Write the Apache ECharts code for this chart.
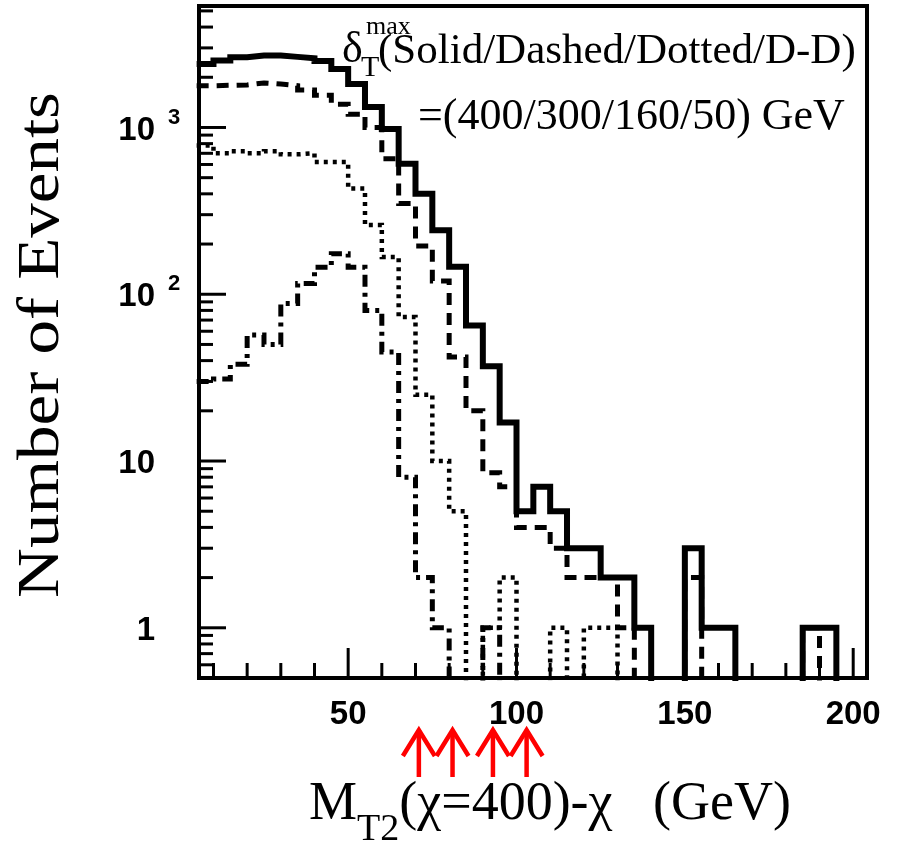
<!DOCTYPE html>
<html>
<head>
<meta charset="utf-8">
<script src="https://cdn.jsdelivr.net/npm/echarts@6/dist/echarts.min.js"></script>
<style>
  html, body { margin: 0; padding: 0; background: #fff; }
  #main { width: 899px; height: 843px; }
</style>
</head>
<body>
<div id="main"></div>
<script>
// left edges of the 5 GeV bins
const binEdges = [5, 10, 15, 20, 25, 30, 35, 40, 45, 50, 55, 60, 65, 70, 75, 80, 85, 90, 95, 100,
  105, 110, 115, 120, 125, 130, 135, 140, 145, 150, 155, 160, 165, 170, 175, 180, 185, 190, 195, 200];

// events per bin
const solid = [2400, 2520, 2640, 2700, 2700, 2650, 2600, 2500, 2245, 1825, 1325, 980, 606, 400, 242, 146, 65, 37, 17, 5,
  7, 5, 3, 3, 2, 2, 1, 0, 0, 3, 1, 1, 0, 0, 0, 0, 1, 1, 0, 0];
const dashed = [1780, 1790, 1800, 1850, 1820, 1780, 1680, 1560, 1380, 1200, 1000, 650, 350, 195, 120, 42, 20, 8.5, 7, 4,
  4, 3, 2, 2, 2, 1, 0, 0, 0, 2, 0, 0, 0, 0, 0, 0, 1, 0, 0, 0];
const dotted = [780, 700, 720, 700, 720, 690, 700, 620, 620, 430, 260, 167, 73, 25, 10, 5, 0, 1, 2, 0,
  0, 1, 0, 1, 1, 0, 0, 0, 0, 0, 0, 0, 0, 0, 0, 0, 0, 0, 0, 0];
const dashDot = [30, 31, 38, 57, 50, 88, 116, 145, 175, 145, 80, 45, 8, 2, 1, 0, 0, 1, 0, 0,
  0, 0, 0, 0, 0, 0, 0, 0, 0, 0, 0, 0, 0, 0, 0, 0, 0, 0, 0, 0];

// red arrows under the axis (GeV)
const arrowX = [71, 81, 93, 103];

// axis ticks and labels
const xTicks = [10, 20, 30, 40, 50, 60, 70, 80, 90, 100, 110, 120, 130, 140, 150, 160, 170, 180, 190, 200];
const xLabels = [50, 100, 150, 200];
const yTicks = [0.6, 0.7, 0.8, 0.9, 1, 2, 3, 4, 5, 6, 7, 8, 9, 10, 20, 30, 40, 50, 60, 70, 80, 90,
  100, 200, 300, 400, 500, 600, 700, 800, 900, 1000, 2000, 3000, 4000, 5000];
const yLabels = [1, 10, 100, 1000];

const BIN = 5;
const X_MIN = 5.7, X_MAX = 204.1;
const Y_MIN = 0.5, Y_MAX = 5350;
const EMPTY = 0.2; // empty bins fall below the frame like in ROOT

function histPoints(vals) {
  const pts = vals.map((v, i) => [binEdges[i], v > 0 ? v : EMPTY]);
  const last = binEdges.length - 1;
  pts.push([binEdges[last] + BIN, pts[last][1]]);
  return pts;
}

function histSeries(name, vals, width, dash) {
  return {
    name: name,
    type: 'line',
    step: 'end',
    data: histPoints(vals),
    symbol: 'none',
    clip: true,
    silent: true,
    z: 5,
    lineStyle: { color: '#000', width: width, type: dash, join: 'miter', cap: 'butt' }
  };
}

const serif = 'Liberation Serif';
const sans = 'Liberation Sans';

const chart = echarts.init(document.getElementById('main'));

const option = {
  animation: false,
  backgroundColor: '#fff',
  grid: {
    left: 199, top: 6, right: 32, bottom: 165,
    containLabel: false,
    outerBoundsMode: 'none',
    show: true, borderColor: '#000', borderWidth: 4, backgroundColor: '#fff'
  },
  xAxis: {
    type: 'value',
    min: X_MIN,
    max: X_MAX,
    splitNumber: 4,
    axisLine: { show: false },
    axisTick: { show: false },
    splitLine: { show: false },
    axisLabel: {
      showMinLabel: false,
      showMaxLabel: false,
      margin: 20,
      color: '#000',
      fontFamily: sans,
      fontWeight: 'bold',
      fontSize: 33,
      formatter: v => (xLabels.includes(v) ? String(v) : '')
    },
    name: '{m|M}{sub|T2}{m|(χ=400)-χ   (GeV)}',
    nameLocation: 'middle',
    nameGap: 83,
    nameTextStyle: {
      color: '#000',
      fontFamily: serif,
      fontSize: 54,
      padding: [0, 0, 0, 34],
      rich: {
        m: { fontFamily: serif, fontSize: 54, color: '#000' },
        sub: { fontFamily: serif, fontSize: 38, color: '#000', padding: [50, 0, 0, 0] }
      }
    }
  },
  yAxis: {
    type: 'log',
    logBase: 10,
    min: Y_MIN,
    max: Y_MAX,
    axisLine: { show: false },
    axisTick: { show: false },
    splitLine: { show: false },
    axisLabel: {
      showMinLabel: false,
      showMaxLabel: false,
      margin: 14,
      formatter: v => {
        const e = Math.round(Math.log10(v));
        const p = Math.pow(10, e);
        if (!yLabels.includes(p) || Math.abs(v - p) > 1e-6 * p) return '';
        if (e === 0) return '{b|1}{h|0}';
        if (e === 1) return '{b|10}{h|0}';
        return '{b|10}{s|' + e + '}';
      },
      rich: {
        b: { fontFamily: sans, fontWeight: 'bold', fontSize: 33, color: '#000', padding: [6, 0, 0, 0] },
        s: { fontFamily: sans, fontWeight: 'bold', fontSize: 22, color: '#000',
             width: 22, align: 'left', padding: [0, 0, 20, 8] },
        h: { fontFamily: sans, fontWeight: 'bold', fontSize: 22, color: 'rgba(0,0,0,0)',
             width: 22, align: 'left', padding: [0, 0, 20, 8] }
      }
    }
  },
  graphic: [
    { type: 'text', x: 42, y: 345, rotation: Math.PI / 2, scaleX: 1.15,
      style: { text: 'Number of Events', fontFamily: serif, fontSize: 60, fill: '#000',
               align: 'center', verticalAlign: 'middle', textAlign: 'center', textVerticalAlign: 'middle' } },
    { type: 'text', x: 342, y: 50, style: { text: 'δ', fontFamily: serif, fontSize: 44, fill: '#000', verticalAlign: 'middle', textVerticalAlign: 'middle' } },
    { type: 'text', x: 366, y: 27, style: { text: 'max', fontFamily: serif, fontSize: 26, fill: '#000', verticalAlign: 'middle', textVerticalAlign: 'middle' } },
    { type: 'text', x: 361, y: 68, style: { text: 'T', fontFamily: serif, fontSize: 30, fill: '#000', verticalAlign: 'middle', textVerticalAlign: 'middle' } },
    { type: 'text', x: 378, y: 52, style: { text: '(Solid/Dashed/Dotted/D-D)', fontFamily: serif, fontSize: 43, fill: '#000', verticalAlign: 'middle', textVerticalAlign: 'middle' } },
    { type: 'text', x: 418, y: 117, style: { text: '=(400/300/160/50) GeV', fontFamily: serif, fontSize: 44, fill: '#000', verticalAlign: 'middle', textVerticalAlign: 'middle' } }
  ],
  series: [
    histSeries('D-D', dashDot, 5, [12, 6, 4, 6]),
    histSeries('Dotted', dotted, 4.5, [4, 5]),
    histSeries('Dashed', dashed, 5, [12, 8]),
    histSeries('Solid', solid, 6, 'solid'),
    {
      // x ticks, drawn inside the frame
      type: 'custom',
      silent: true,
      clip: false,
      z: 6,
      data: xTicks.map(v => [v, Y_MIN]),
      renderItem: (params, api) => {
        const v = api.value(0);
        const p = api.coord([v, Y_MIN]);
        const len = xLabels.includes(v) ? 30 : 15;
        return { type: 'line', shape: { x1: p[0], y1: p[1], x2: p[0], y2: p[1] - len },
                 style: { stroke: '#000', lineWidth: 3 } };
      }
    },
    {
      // y ticks, decades long
      type: 'custom',
      silent: true,
      clip: false,
      z: 6,
      data: yTicks.map(v => [X_MIN, v]),
      renderItem: (params, api) => {
        const v = api.value(1);
        const p = api.coord([X_MIN, v]);
        const l = Math.log10(v);
        const len = Math.abs(l - Math.round(l)) < 1e-6 ? 27 : 14;
        return { type: 'line', shape: { x1: p[0], y1: p[1], x2: p[0] + len, y2: p[1] },
                 style: { stroke: '#000', lineWidth: 3 } };
      }
    },
    {
      // red arrows marking the endpoints
      type: 'custom',
      silent: true,
      clip: false,
      z: 6,
      data: arrowX.map(x => [x, Y_MIN]),
      renderItem: (params, api) => {
        const p = api.coord([api.value(0), Y_MIN]);
        const tip = p[1] + 52, end = p[1] + 99;
        const st = { stroke: '#ff0000', lineWidth: 4.5, fill: null };
        return {
          type: 'group',
          children: [
            { type: 'line', shape: { x1: p[0], y1: tip, x2: p[0], y2: end }, style: st },
            { type: 'polyline', shape: { points: [[p[0] - 16, tip + 26], [p[0], tip], [p[0] + 16, tip + 26]] }, style: st }
          ]
        };
      }
    }
  ]
};

chart.setOption(option);
</script>
</body>
</html>
